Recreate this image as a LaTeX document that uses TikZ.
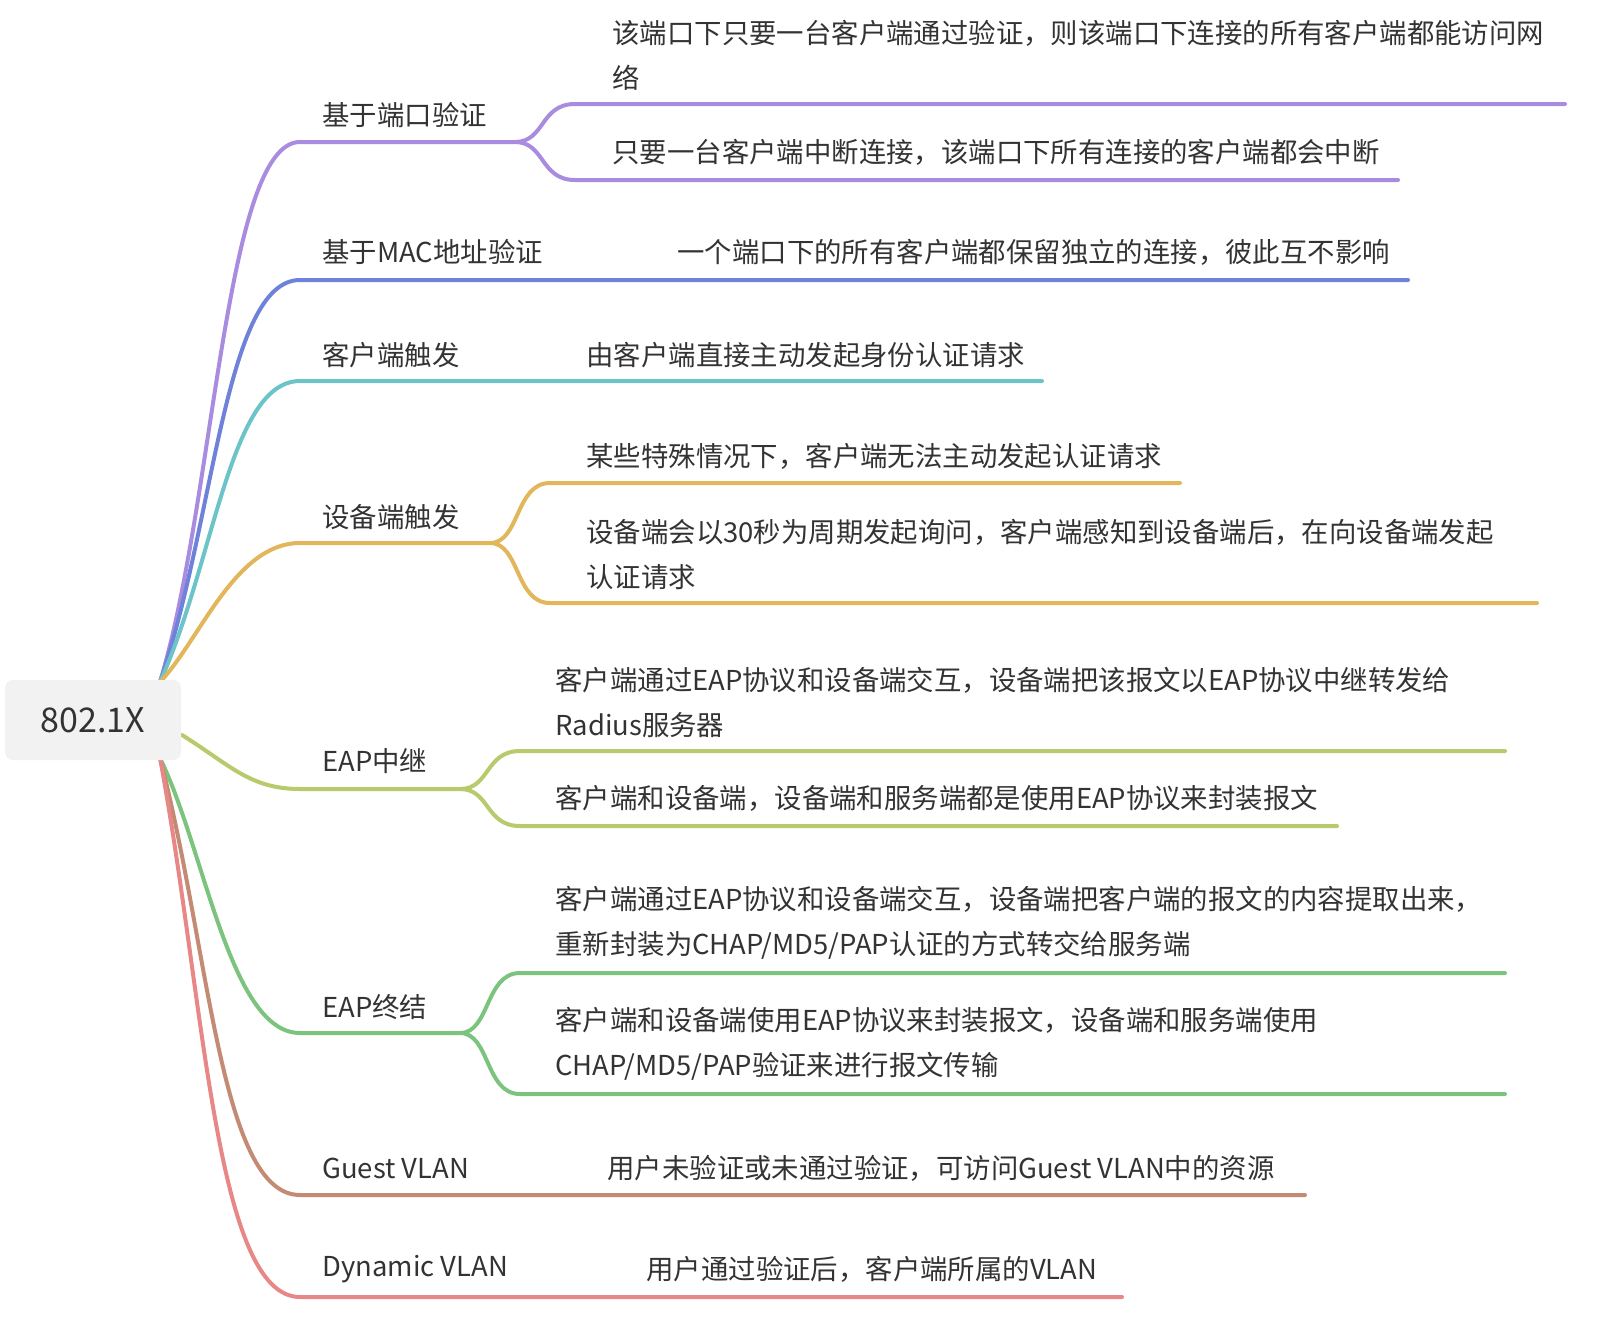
\documentclass[tikz,border=0pt]{standalone}
\usepackage{fontspec}
\setmainfont{Noto Sans CJK SC}
\definecolor{tx}{HTML}{333333}
\definecolor{c1}{HTML}{A98BE0}
\definecolor{c2}{HTML}{6F82DA}
\definecolor{c3}{HTML}{6CC4C8}
\definecolor{c4}{HTML}{E2B65A}
\definecolor{c5}{HTML}{B7CA6C}
\definecolor{c6}{HTML}{7CC47E}
\definecolor{c7}{HTML}{C48B74}
\definecolor{c8}{HTML}{E88787}
\begin{document}
\begin{tikzpicture}[x=0.5pt,y=-0.5pt,
 lbl/.style={anchor=west,inner sep=0pt,text=tx,font=\fontsize{13.7pt}{22.5pt}\selectfont,align=left},
 br/.style={line width=2pt,line cap=round}]
\useasboundingbox (0,0) rectangle (1600,1328);
\coordinate (rt) at (160,682);
\coordinate (rb) at (160,758);
\coordinate (rm) at (182,735);
\draw[br,c1] (rt) .. controls (215,500) and (225,142) .. (300,142) coordinate (b1) -- (515,142) coordinate (b1e);
\draw[br,c2] (rt) .. controls (215,520) and (225,280) .. (300,280) coordinate (b2) -- (1408,280) coordinate (b2e);
\draw[br,c3] (rt) .. controls (215,560) and (230,381) .. (300,381) coordinate (b3) -- (1042,381) coordinate (b3e);
\draw[br,c4] (rt) .. controls (200,640) and (235,543) .. (300,543) coordinate (b4) -- (490,543) coordinate (b4e);
\draw[br,c5] (rm) .. controls (230,765) and (250,789) .. (300,789) coordinate (b5) -- (460,789) coordinate (b5e);
\draw[br,c6] (rb) .. controls (205,850) and (230,1033) .. (300,1033) coordinate (b6) -- (460,1033) coordinate (b6e);
\draw[br,c7] (rb) .. controls (210,950) and (220,1195) .. (300,1195) coordinate (b7) -- (1305,1195) coordinate (b7e);
\draw[br,c8] (rb) .. controls (205,1000) and (215,1297) .. (300,1297) coordinate (b8) -- (1122,1297) coordinate (b8e);
\draw[br,c1] (b1e) .. controls (545,142) and (540,104) .. (575,104) -- (1565,104);
\draw[br,c1] (b1e) .. controls (545,142) and (540,180) .. (575,180) -- (1398,180);
\draw[br,c4] (b4e) .. controls (520,543) and (515,483) .. (550,483) -- (1180,483);
\draw[br,c4] (b4e) .. controls (520,543) and (515,603) .. (550,603) -- (1537,603);
\draw[br,c5] (b5e) .. controls (490,789) and (485,751) .. (520,751) -- (1505,751);
\draw[br,c5] (b5e) .. controls (490,789) and (485,826) .. (520,826) -- (1337,826);
\draw[br,c6] (b6e) .. controls (490,1033) and (485,973) .. (520,973) -- (1505,973);
\draw[br,c6] (b6e) .. controls (490,1033) and (485,1094) .. (520,1094) -- (1505,1094);
\node[fill=black!5,rounded corners=4pt,minimum width=88pt,minimum height=40pt,text=tx,font=\fontsize{17pt}{20pt}\selectfont] (root) at (93,720) {802.1X};
\node[lbl] (l1) at (322,115) {基于端口验证};
\node[lbl] (l2) at (322,252) {基于MAC地址验证};
\node[lbl] (l3) at (322,355) {客户端触发};
\node[lbl] (l4) at (322,517) {设备端触发};
\node[lbl] (l5) at (322,761) {EAP中继};
\node[lbl] (l6) at (322,1007) {EAP终结};
\node[lbl] (l7) at (322,1168) {Guest VLAN};
\node[lbl] (l8) at (322,1269) {Dynamic VLAN};
\node[lbl] (t11) at (612,55) {该端口下只要一台客户端通过验证，则该端口下连接的所有客户端都能访问网\\络};
\node[lbl] (t12) at (612,152) {只要一台客户端中断连接，该端口下所有连接的客户端都会中断};
\node[lbl] (t2) at (677,252) {一个端口下的所有客户端都保留独立的连接，彼此互不影响};
\node[lbl] (t3) at (586,355) {由客户端直接主动发起身份认证请求};
\node[lbl] (t41) at (586,456) {某些特殊情况下，客户端无法主动发起认证请求};
\node[lbl] (t42) at (586,554) {设备端会以30秒为周期发起询问，客户端感知到设备端后，在向设备端发起\\认证请求};
\node[lbl] (t51) at (555,702) {客户端通过EAP协议和设备端交互，设备端把该报文以EAP协议中继转发给\\Radius服务器};
\node[lbl] (t52) at (555,798) {客户端和设备端，设备端和服务端都是使用EAP协议来封装报文};
\node[lbl] (t61) at (555,923) {客户端通过EAP协议和设备端交互，设备端把客户端的报文的内容提取出来，\\重新封装为CHAP/MD5/PAP认证的方式转交给服务端};
\node[lbl] (t62) at (555,1044) {客户端和设备端使用EAP协议来封装报文，设备端和服务端使用\\CHAP/MD5/PAP验证来进行报文传输};
\node[lbl] (t7) at (607,1168) {用户未验证或未通过验证，可访问Guest VLAN中的资源};
\node[lbl] (t8) at (646,1269) {用户通过验证后，客户端所属的VLAN};
\end{tikzpicture}
\end{document}
